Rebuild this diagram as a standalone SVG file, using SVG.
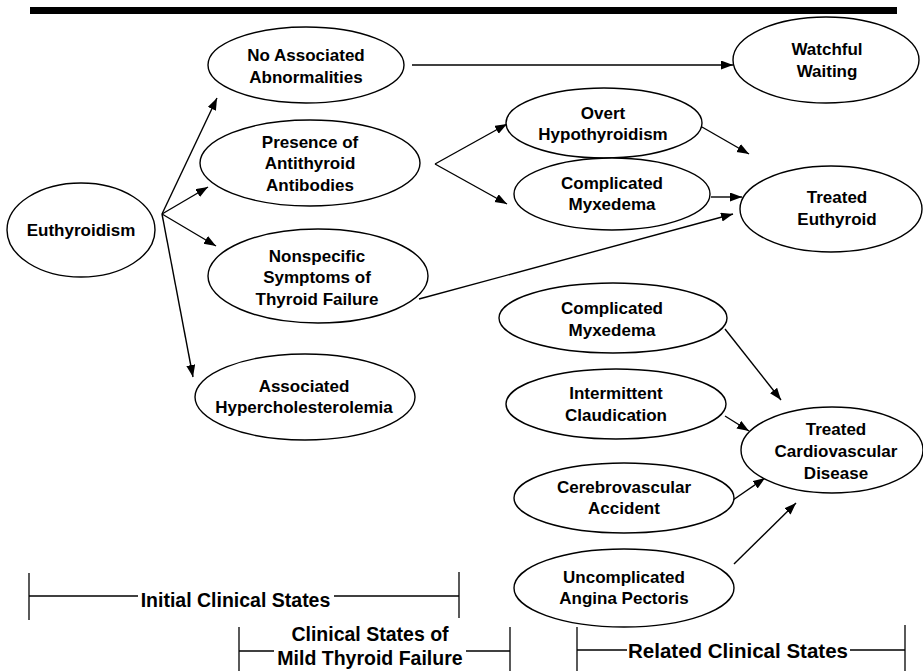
<svg xmlns="http://www.w3.org/2000/svg" width="923" height="671" viewBox="0 0 923 671">
<style>
.n ellipse{fill:#fff;stroke:#000;stroke-width:1.4}
.n text,.b text{font-family:"Liberation Sans",Arial,sans-serif;font-weight:bold;font-size:17px;text-anchor:middle;fill:#000}
.b text{font-size:19.5px}
.c line{stroke:#000;stroke-width:1.4;marker-end:url(#ah)}
.b line{stroke:#000;stroke-width:1.3}
</style>
<defs>
<marker id="ah" markerUnits="userSpaceOnUse" markerWidth="13" markerHeight="10" refX="12" refY="4.5" orient="auto">
<path d="M0,0 L12,4.5 L0,9 Z" fill="#000"/>
</marker>
</defs>
<rect x="30" y="7" width="867" height="7" fill="#000"/>
<g class="c" id="connectors">
<line x1="162" y1="214" x2="217" y2="98"/>
<line x1="162" y1="214" x2="208" y2="187"/>
<line x1="162" y1="214" x2="216" y2="246"/>
<line x1="162" y1="214" x2="193" y2="377"/>
<line x1="412" y1="65" x2="733" y2="65"/>
<line x1="435" y1="164" x2="507" y2="124"/>
<line x1="435" y1="164" x2="507" y2="204"/>
<line x1="702" y1="127" x2="749" y2="154"/>
<line x1="711" y1="197" x2="742" y2="197"/>
<line x1="419" y1="299" x2="733" y2="214"/>
<line x1="725" y1="329" x2="781" y2="400"/>
<line x1="725" y1="416" x2="749" y2="431"/>
<line x1="733" y1="500" x2="765" y2="478"/>
<line x1="734" y1="564" x2="796" y2="503"/>
</g>
<g class="n" id="euthyroidism"><ellipse cx="81" cy="230" rx="74" ry="47"/><text x="81" y="236">Euthyroidism</text></g>
<g class="n" id="no-assoc"><ellipse cx="306" cy="65" rx="98" ry="38"/><text x="306" y="61">No Associated</text><text x="306" y="83">Abnormalities</text></g>
<g class="n" id="antibodies"><ellipse cx="310" cy="163" rx="110" ry="43"/><text x="310" y="148">Presence of</text><text x="310" y="169">Antithyroid</text><text x="310" y="191">Antibodies</text></g>
<g class="n" id="nonspecific"><ellipse cx="318" cy="276" rx="110" ry="47"/><text x="317" y="262">Nonspecific</text><text x="317" y="283">Symptoms of</text><text x="317" y="305">Thyroid Failure</text></g>
<g class="n" id="hyperchol"><ellipse cx="305" cy="397" rx="110" ry="43"/><text x="304" y="392">Associated</text><text x="304" y="413">Hypercholesterolemia</text></g>
<g class="n" id="watchful"><ellipse cx="826" cy="60" rx="93" ry="43"/><text x="827" y="55">Watchful</text><text x="827" y="77">Waiting</text></g>
<g class="n" id="overt"><ellipse cx="604" cy="123" rx="98" ry="35"/><text x="603" y="119">Overt</text><text x="603" y="140">Hypothyroidism</text></g>
<g class="n" id="myx1"><ellipse cx="612" cy="194" rx="98" ry="36"/><text x="612" y="189">Complicated</text><text x="612" y="210">Myxedema</text></g>
<g class="n" id="treated-euthyroid"><ellipse cx="831" cy="209" rx="91" ry="43"/><text x="837" y="203">Treated</text><text x="837" y="225">Euthyroid</text></g>
<g class="n" id="myx2"><ellipse cx="613" cy="318" rx="114" ry="35"/><text x="612" y="314">Complicated</text><text x="612" y="336">Myxedema</text></g>
<g class="n" id="claudication"><ellipse cx="616" cy="404" rx="110" ry="35"/><text x="616" y="399">Intermittent</text><text x="616" y="421">Claudication</text></g>
<g class="n" id="tcd"><ellipse cx="832" cy="450" rx="91" ry="43"/><text x="836" y="435">Treated</text><text x="836" y="457">Cardiovascular</text><text x="836" y="479">Disease</text></g>
<g class="n" id="cva"><ellipse cx="624" cy="498" rx="110" ry="35"/><text x="624" y="493">Cerebrovascular</text><text x="624" y="514">Accident</text></g>
<g class="n" id="angina"><ellipse cx="624" cy="588" rx="110" ry="39"/><text x="624" y="583">Uncomplicated</text><text x="624" y="604">Angina Pectoris</text></g>
<g class="b" id="bracket-initial">
<line x1="29" y1="573" x2="29" y2="620"/><line x1="459" y1="572" x2="459" y2="618"/>
<line x1="29" y1="596" x2="138" y2="596"/><line x1="334" y1="596" x2="459" y2="596"/>
<text x="235.5" y="607">Initial Clinical States</text>
</g>
<g class="b" id="bracket-mild">
<line x1="239" y1="627" x2="239" y2="671"/><line x1="510" y1="627" x2="510" y2="671"/>
<line x1="239" y1="651" x2="274" y2="651"/><line x1="466" y1="651" x2="510" y2="651"/>
<text x="370" y="641">Clinical States of</text><text x="370" y="665">Mild Thyroid Failure</text>
</g>
<g class="b" id="bracket-related">
<line x1="577" y1="627" x2="577" y2="671"/><line x1="905" y1="625" x2="905" y2="671"/>
<line x1="577" y1="650" x2="627" y2="650"/><line x1="850" y1="650" x2="905" y2="650"/>
<text x="738" y="658" style="font-size:20.5px">Related Clinical States</text>
</g>
</svg>
